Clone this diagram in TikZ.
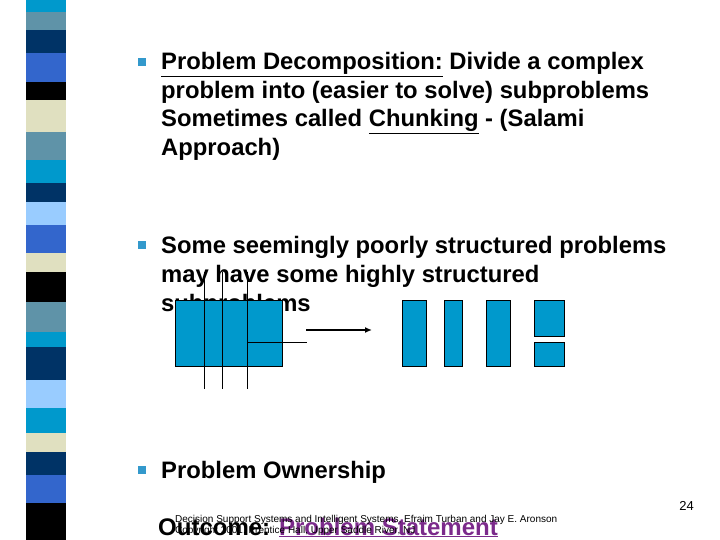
\documentclass[tikz,border=0pt]{standalone}
\usepackage{fontspec}
\setmainfont{Liberation Sans}
\usetikzlibrary{arrows.meta}
\begin{document}
\begin{tikzpicture}[x=1pt,y=-1pt,
  txt/.style={anchor=base west,inner sep=0pt,font=\fontsize{23.8}{28}\selectfont\bfseries},
  bul/.style={fill=bulc,draw=none,minimum size=8pt,inner sep=0pt},
  blk/.style={fill=boxc,draw=black,line width=0.6pt}]
\definecolor{bulc}{HTML}{3399CC}
\definecolor{boxc}{HTML}{0099CC}
\definecolor{sc}{HTML}{0099CC}\definecolor{st}{HTML}{5F93A8}\definecolor{nv}{HTML}{003366}
\definecolor{bl}{HTML}{3366CC}\definecolor{cr}{HTML}{E0E0C0}\definecolor{lb}{HTML}{99CCFF}
\definecolor{pu}{HTML}{7B2A8B}
\useasboundingbox (0,0) rectangle (720,540);
\fill[white] (0,0) rectangle (720,540);
% stripe
\foreach \a/\b/\c in {0/12/sc,12/30/st,30/53/nv,53/82/bl,82/100/black,100/132/cr,132/160/st,160/183/sc,183/202/nv,202/225/lb,225/253/bl,253/272/cr,272/302/black,302/332/st,332/347/sc,347/380/nv,380/408/lb,408/433/sc,433/452/cr,452/475/nv,475/503/bl,503/540/black}
  \fill[\c] (26,\a) rectangle (66,\b);
% bullets
\node[bul] (b1) at (142,62) {};
\node[bul] (b2) at (142,245) {};
\node[bul] (b3) at (142,470) {};
\node[txt] (t1) at (161,70) {\underline{Problem Decomposition:} Divide a complex};
\node[txt] (t2) at (161,99) {problem into (easier to solve) subproblems};
\node[txt] (t3) at (161,127) {Sometimes called \underline{Chunking} - (Salami};
\node[txt] (t4) at (161,156) {Approach)};
\node[txt] (t5) at (161,253) {Some seemingly poorly structured problems};
\node[txt] (t6) at (161,282) {may have some highly structured};
\node[txt] (t7) at (161,311) {subproblems};
\node[txt] (t8) at (161,478) {Problem Ownership};
% diagram
\draw[blk] (175,300) rectangle (282,366);
\coordinate (v1a) at (204,272); \coordinate (v1b) at (204,389);
\coordinate (v2a) at (222,272); \coordinate (v2b) at (222,389);
\coordinate (v3a) at (247,272); \coordinate (v3b) at (247,389);
\coordinate (h1) at (247,342); \coordinate (h2) at (307,342);
\draw (v1a)--(v1b) (v2a)--(v2b) (v3a)--(v3b) (h1)--(h2);
\coordinate (a1) at (306,330); \coordinate (a2) at (372,330);
\draw[-{Latex[length=7pt,width=6pt]},line width=1.3pt] (a1)--(a2);
\draw[blk] (402,300) rectangle (426,366);
\draw[blk] (444,300) rectangle (462,366);
\draw[blk] (486,300) rectangle (510,366);
\draw[blk] (534,300) rectangle (564,336);
\draw[blk] (534,342) rectangle (564,366);
% footer
\node[anchor=base east,inner sep=0pt,font=\fontsize{13}{15}\selectfont] (pg) at (694,510) {24};
\node[anchor=base west,inner sep=0pt,font=\fontsize{24}{28}\selectfont\bfseries] (oc) at (158,535) {Outcome: \textcolor{pu}{\underline{Problem Statement}}};
\node[anchor=base west,inner sep=0pt,font=\fontsize{10}{12}\selectfont] (ft) at (175,522) {Decision Support Systems and Intelligent Systems, Efraim Turban and Jay E. Aronson};
\node[anchor=base west,inner sep=0pt,font=\fontsize{10}{12}\selectfont] (ft2) at (175,533) {Copyright 2001, Prentice Hall, Upper Saddle River, NJ};
\end{tikzpicture}
\end{document}
